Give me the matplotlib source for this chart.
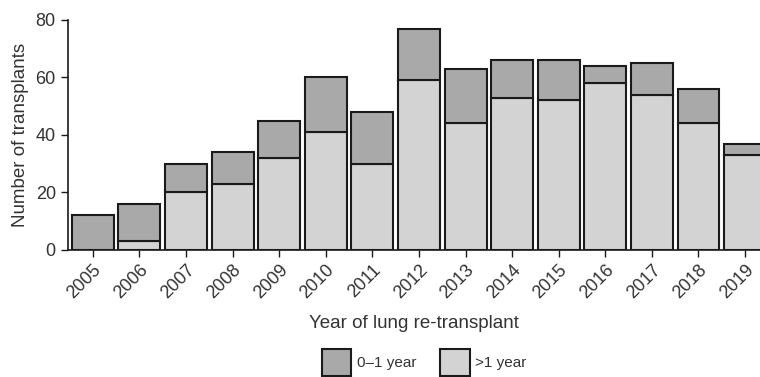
import matplotlib
matplotlib.use("Agg")
import matplotlib.pyplot as plt
import numpy as np

years = ['2005', '2006', '2007', '2008', '2009', '2010', '2011', '2012',
         '2013', '2014', '2015', '2016', '2017', '2018', '2019']
over_one = [0, 3, 20, 23, 32, 41, 30, 59, 44, 53, 52, 58, 54, 44, 33]
total = [12, 16, 30, 34, 45, 60, 48, 77, 63, 66, 66, 64, 65, 56, 37]
zero_one = [t - o for t, o in zip(total, over_one)]

plt.rcParams['font.family'] = ['Liberation Sans', 'DejaVu Sans']
txt = '#333333'

fig = plt.figure(figsize=(7.6, 3.77), dpi=100)
ax = fig.add_axes([0.089, 0.337, 0.911, 0.61])

x = np.arange(len(years))
ax.bar(x, over_one, width=0.9, color='#d3d3d3', edgecolor='#1a1a1a', linewidth=1.5, label='>1 year')
ax.bar(x, zero_one, bottom=over_one, width=0.9, color='#a9a9a9', edgecolor='#1a1a1a', linewidth=1.5, label='0\u20131 year')

ax.set_xlim(-0.54, 14.32)
ax.set_ylim(0, 80)
ax.set_yticks([0, 20, 40, 60, 80])
ax.set_xticks(x)
ax.set_xticklabels(years, rotation=45, ha='right', rotation_mode='anchor')
ax.tick_params(labelsize=13, length=5, width=1, colors='#1a1a1a', labelcolor=txt)
for s in ['top', 'right']:
    ax.spines[s].set_visible(False)
for s in ['left', 'bottom']:
    ax.spines[s].set_linewidth(1.2)
    ax.spines[s].set_color('#1a1a1a')

ax.set_ylabel('Number of transplants', fontsize=13.5, color=txt, labelpad=5)
ax.set_xlabel('Year of lung re-transplant', fontsize=13.5, color=txt, labelpad=9)

h, l = ax.get_legend_handles_labels()
fig.legend(h[::-1], l[::-1], loc='upper center', bbox_to_anchor=(0.558, 0.074), ncol=2,
           frameon=False, fontsize=11, handlelength=1.96, handleheight=2.3,
           handletextpad=0.35, columnspacing=1.55, labelcolor=txt, borderaxespad=0, borderpad=0)

plt.savefig('out.png', dpi=100)
